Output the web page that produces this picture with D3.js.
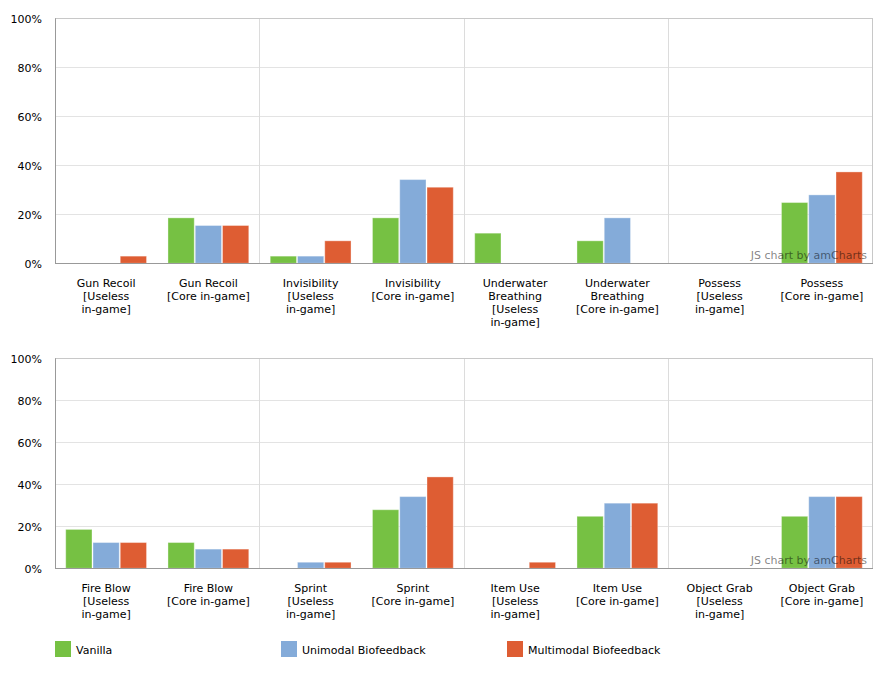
<!DOCTYPE html>
<html>
<head>
<meta charset="utf-8">
<script src="https://cdn.jsdelivr.net/npm/d3@7"></script>
<style>
  html, body { margin: 0; padding: 0; background: #fff; }
  svg, svg text { font-family: "DejaVu Sans", Verdana, sans-serif; }
  svg { display: block; }
</style>
</head>
<body>
<svg id="chart" width="888" height="675"></svg>
<script>
// ---- Data ----
const seriesNames = ["Vanilla", "Unimodal Biofeedback", "Multimodal Biofeedback"];
const seriesColors = ["#76C143", "#84ABD9", "#DE5D33"];
const yTicks = [0, 20, 40, 60, 80, 100];

const categoriesTop = [
  "Gun Recoil\n[Useless\nin-game]",
  "Gun Recoil\n[Core in-game]",
  "Invisibility\n[Useless\nin-game]",
  "Invisibility\n[Core in-game]",
  "Underwater\nBreathing\n[Useless\nin-game]",
  "Underwater\nBreathing\n[Core in-game]",
  "Possess\n[Useless\nin-game]",
  "Possess\n[Core in-game]"
];
const vanillaTop    = [0, 18.75, 3.125, 18.75, 12.5, 9.375, 0, 25];
const unimodalTop   = [0, 15.625, 3.125, 34.375, 0, 18.75, 0, 28.125];
const multimodalTop = [3.125, 15.625, 9.375, 31.25, 0, 0, 0, 37.5];

const categoriesBottom = [
  "Fire Blow\n[Useless\nin-game]",
  "Fire Blow\n[Core in-game]",
  "Sprint\n[Useless\nin-game]",
  "Sprint\n[Core in-game]",
  "Item Use\n[Useless\nin-game]",
  "Item Use\n[Core in-game]",
  "Object Grab\n[Useless\nin-game]",
  "Object Grab\n[Core in-game]"
];
const vanillaBottom    = [18.75, 12.5, 0, 28.125, 0, 25, 0, 25];
const unimodalBottom   = [12.5, 9.375, 3.125, 34.375, 0, 31.25, 0, 34.375];
const multimodalBottom = [12.5, 9.375, 3.125, 43.75, 3.125, 31.25, 0, 34.375];

// ---- Drawing ----
const svg = d3.select("#chart");

function drawPanel(cfg) {
  const { left, right, top, bottom, categories, series } = cfg;
  const g = svg.append("g");

  const x = d3.scaleBand().domain(categories).range([left, right]).paddingInner(0).paddingOuter(0);
  const xs = d3.scaleBand().domain(d3.range(series.length)).range([0, x.bandwidth()]).paddingInner(0).paddingOuter(0.375);
  const y = d3.scaleLinear().domain([0, 100]).range([bottom, top]);

  // horizontal gridlines
  g.append("g").selectAll("line").data(yTicks.filter(t => t > 0 && t < 100)).join("line")
    .attr("x1", left).attr("x2", right)
    .attr("y1", d => Math.floor(y(d)) + 0.5).attr("y2", d => Math.floor(y(d)) + 0.5)
    .attr("stroke", "#e3e3e3").attr("stroke-width", 1);

  // vertical gridlines every two categories
  g.append("g").selectAll("line").data(categories.filter((c, i) => i > 0 && i % 2 === 0)).join("line")
    .attr("x1", d => Math.floor(x(d)) + 0.5).attr("x2", d => Math.floor(x(d)) + 0.5)
    .attr("y1", top).attr("y2", bottom)
    .attr("stroke", "#dcdcdc").attr("stroke-width", 1);

  // border
  g.append("rect")
    .attr("x", left + 0.5).attr("y", Math.floor(top) + 0.5)
    .attr("width", right - left - 1).attr("height", Math.floor(bottom) - Math.floor(top))
    .attr("fill", "none").attr("stroke", "#c8c8c8");

  // bars
  const bars = [];
  categories.forEach((c, ci) => {
    series.forEach((s, si) => {
      if (s[ci] > 0) bars.push({ c, si, v: s[ci] });
    });
  });
  g.append("g").selectAll("rect").data(bars).join("rect")
    .attr("x", d => x(d.c) + xs(d.si) + 0.5)
    .attr("width", xs.bandwidth() - 1)
    .attr("y", d => y(d.v) + 0.5)
    .attr("height", d => y(0) - y(d.v) - 0.5)
    .attr("fill", d => seriesColors[d.si])
    .attr("stroke", "#ffffff").attr("stroke-opacity", 0.35).attr("stroke-width", 1);

  // y axis
  const yAxis = d3.axisLeft(y).tickValues(yTicks).tickFormat(d => d + "%").tickSize(0).tickPadding(13);
  const ya = g.append("g").attr("transform", `translate(${left},0)`).call(yAxis)
    .attr("font-family", null).attr("font-size", null);
  ya.select(".domain").attr("stroke", "#999").attr("d", `M0.5,${top}V${bottom}`);
  ya.selectAll("text").attr("font-size", 11).attr("fill", "#000").attr("dy", "0.36em");

  // x axis
  const xAxis = d3.axisBottom(x).tickSize(0).tickPadding(0).tickFormat("");
  const xa = g.append("g").attr("transform", `translate(0,${Math.floor(bottom) + 0.5})`).call(xAxis)
    .attr("font-family", null).attr("font-size", null);
  xa.select(".domain").attr("stroke", "#999").attr("d", `M${left},0H${right}`);
  xa.selectAll(".tick").each(function(d) {
    const t = d3.select(this).append("text")
      .attr("text-anchor", "middle").attr("font-size", 11).attr("fill", "#000");
    d.split("\n").forEach((line, i) => {
      t.append("tspan").attr("x", 0).attr("y", 23.5 + i * 13).text(line);
    });
  });

  // watermark
  g.append("text")
    .attr("x", right - 6).attr("y", bottom - 4)
    .attr("text-anchor", "end").attr("font-size", 11)
    .attr("fill", "#000").attr("fill-opacity", 0.5)
    .text("JS chart by amCharts");
}

drawPanel({
  left: 55, right: 873, top: 18.3, bottom: 263.3,
  categories: categoriesTop,
  series: [vanillaTop, unimodalTop, multimodalTop]
});
drawPanel({
  left: 55, right: 873, top: 358.3, bottom: 568.3,
  categories: categoriesBottom,
  series: [vanillaBottom, unimodalBottom, multimodalBottom]
});

// legend
const legendX = [55, 281, 507];
const legend = svg.append("g").selectAll("g").data(seriesNames).join("g")
  .attr("transform", (d, i) => `translate(${legendX[i]},641)`);
legend.append("rect").attr("width", 16).attr("height", 16).attr("fill", (d, i) => seriesColors[i]);
legend.append("text").attr("x", 21).attr("y", 13).attr("font-size", 11).attr("fill", "#000").text(d => d);
</script>
</body>
</html>
